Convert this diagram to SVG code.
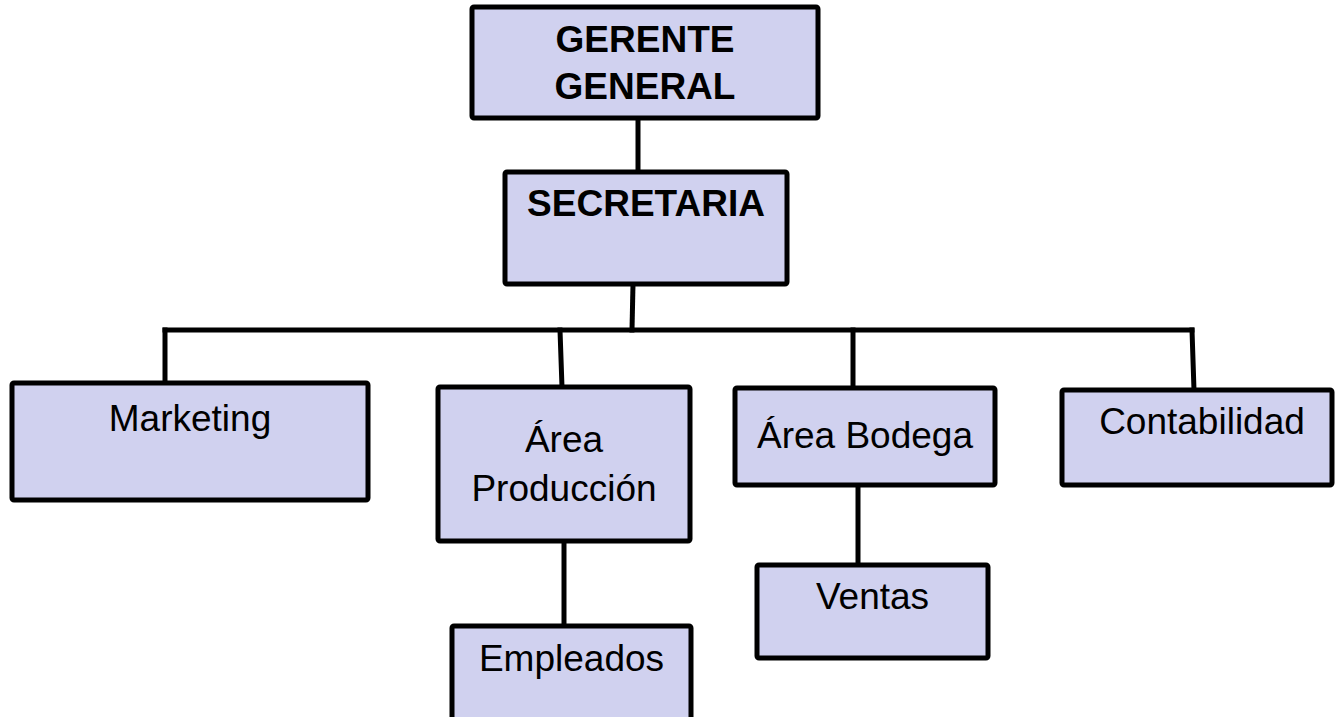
<svg xmlns="http://www.w3.org/2000/svg" width="1335" height="717" viewBox="0 0 1335 717">
<style>
.box{fill:#d0d1ef;stroke:#000;stroke-width:5;stroke-linejoin:round}
.conn{stroke:#000;stroke-width:5;fill:none;stroke-linecap:square}
text{font-family:"Liberation Sans",Arial,sans-serif;font-size:37px;fill:#000;text-anchor:middle}
.b{font-weight:bold}
</style>
<rect width="1335" height="717" fill="#fff"/>
<g id="connectors">
<line class="conn" x1="638" y1="118" x2="638" y2="172"/>
<line class="conn" x1="633" y1="284" x2="632" y2="330"/>
<line class="conn" x1="165" y1="330" x2="1192" y2="330"/>
<line class="conn" x1="165" y1="330" x2="165" y2="383"/>
<line class="conn" x1="560" y1="330" x2="562" y2="387"/>
<line class="conn" x1="853" y1="330" x2="853" y2="388"/>
<line class="conn" x1="1192" y1="330" x2="1194" y2="390"/>
<line class="conn" x1="564" y1="541" x2="564" y2="626"/>
<line class="conn" x1="858" y1="485" x2="858" y2="565"/>
</g>
<g id="gerente">
<rect class="box" x="472" y="7" width="346" height="111" rx="2"/>
<text class="b" x="645" y="52">GERENTE</text>
<text class="b" x="645" y="99">GENERAL</text>
</g>
<g id="secretaria">
<rect class="box" x="505" y="172" width="282" height="112" rx="2"/>
<text class="b" x="646" y="216">SECRETARIA</text>
</g>
<g id="marketing">
<rect class="box" x="12" y="383" width="356" height="117" rx="2"/>
<text x="190" y="431">Marketing</text>
</g>
<g id="produccion">
<rect class="box" x="438" y="387" width="252" height="154" rx="2"/>
<text x="564" y="452">Área</text>
<text x="564" y="501">Producción</text>
</g>
<g id="bodega">
<rect class="box" x="735" y="388" width="260" height="97" rx="2"/>
<text x="865" y="448">Área Bodega</text>
</g>
<g id="contabilidad">
<rect class="box" x="1062" y="390" width="270" height="95" rx="2"/>
<text x="1202" y="434">Contabilidad</text>
</g>
<g id="empleados">
<rect class="box" x="452" y="626" width="239" height="100" rx="2"/>
<text x="571.5" y="671">Empleados</text>
</g>
<g id="ventas">
<rect class="box" x="757" y="565" width="231" height="93" rx="2"/>
<text x="872.5" y="609">Ventas</text>
</g>
</svg>
